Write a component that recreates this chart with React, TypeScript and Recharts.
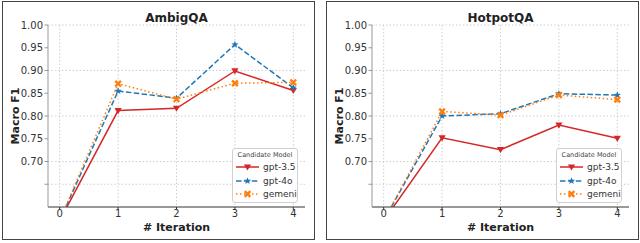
import React from 'react';
import { LineChart, Line, XAxis, YAxis, CartesianGrid, Legend } from 'recharts';

const iterations = [0, 1, 2, 3, 4];
const xTicks = [0, 1, 2, 3, 4];
const yTicks = [0.65, 0.7, 0.75, 0.8, 0.85, 0.9, 0.95, 1.0];

const ambigGpt35 = [0.57, 0.812, 0.817, 0.899, 0.856];
const ambigGpt4o = [0.57, 0.855, 0.839, 0.957, 0.862];
const ambigGemeni = [0.57, 0.871, 0.837, 0.872, 0.874];

const hotpotGpt35 = [0.57, 0.752, 0.726, 0.78, 0.751];
const hotpotGpt4o = [0.57, 0.8, 0.805, 0.849, 0.846];
const hotpotGemeni = [0.57, 0.81, 0.802, 0.846, 0.836];

const FONT = '"DejaVu Sans", sans-serif';

type Shape = 'tri' | 'star' | 'x';

const SERIES: { key: string; name: string; color: string; dash?: string; shape: Shape }[] = [
  { key: 'gpt35', name: 'gpt-3.5', color: '#d62728', shape: 'tri' },
  { key: 'gpt4o', name: 'gpt-4o', color: '#1f77b4', dash: '5.5 2.4', shape: 'star' },
  { key: 'gemeni', name: 'gemeni', color: '#ff7f0e', dash: '1.5 2.5', shape: 'x' },
];

const starPoints = (cx: number, cy: number, ro: number, ri: number) => {
  const pts: string[] = [];
  for (let i = 0; i < 10; i++) {
    const r = i % 2 === 0 ? ro : ri;
    const a = -Math.PI / 2 + (i * Math.PI) / 5;
    pts.push(`${cx + r * Math.cos(a)},${cy + r * Math.sin(a)}`);
  }
  return pts.join(' ');
};

const Marker = ({ cx, cy, shape, color }: { cx: number; cy: number; shape: Shape; color: string }) => {
  if (cx == null || cy == null) return null;
  if (shape === 'tri') {
    return <path d={`M${cx - 3.6},${cy - 2.6} L${cx + 3.6},${cy - 2.6} L${cx},${cy + 3.6} Z`} fill={color} />;
  }
  if (shape === 'star') {
    return <polygon points={starPoints(cx, cy, 3.8, 1.6)} fill={color} />;
  }
  return (
    <g transform={`translate(${cx},${cy}) rotate(45)`} fill={color}>
      <rect x={-4} y={-1.2} width={8} height={2.4} />
      <rect x={-1.2} y={-4} width={2.4} height={8} />
    </g>
  );
};

const LegendBox = () => (
  <div
    style={{
      width: 66,
      height: 55,
      boxSizing: 'border-box',
      border: '1px solid #d0d0d0',
      borderRadius: 3,
      background: 'rgba(255,255,255,0.85)',
      fontFamily: FONT,
      position: 'relative',
    }}
  >
    <div style={{ position: 'absolute', top: 1, left: 0, width: 64, textAlign: 'center', fontSize: 6.5, color: '#444', lineHeight: '10px' }}>
      Candidate Model
    </div>
    {SERIES.map((s, i) => (
      <div key={s.key} style={{ position: 'absolute', left: 2, top: 12 + i * 13.5, height: 12, display: 'flex', alignItems: 'center' }}>
        <svg width={25} height={12}>
          <line x1={1} y1={6} x2={24} y2={6} stroke={s.color} strokeWidth={1.5} strokeDasharray={s.dash} />
          <Marker cx={12.5} cy={6} shape={s.shape} color={s.color} />
        </svg>
        <span style={{ fontSize: 9, color: '#333', marginLeft: 3, lineHeight: '12px' }}>{s.name}</span>
      </div>
    ))}
  </div>
);

const Panel = ({ title, a, b, c, left }: { title: string; a: number[]; b: number[]; c: number[]; left: number }) => {
  const data = iterations.map((it, i) => ({ iter: it, gpt35: a[i], gpt4o: b[i], gemeni: c[i] }));
  return (
    <div
      style={{
        position: 'absolute',
        left,
        top: 1,
        width: 313,
        height: 239,
        boxSizing: 'border-box',
        border: '1px solid #444',
        background: '#fff',
      }}
    >
      <div
        style={{
          position: 'absolute',
          left: 45,
          width: 257,
          top: 8,
          textAlign: 'center',
          fontFamily: FONT,
          fontWeight: 'bold',
          fontSize: 12,
          lineHeight: '16px',
          color: '#222',
        }}
      >
        {title}
      </div>
      <LineChart width={311} height={237} data={data} margin={{ top: 23, right: 9, bottom: 0, left: 0 }}>
        <CartesianGrid stroke="#cfcfcf" strokeDasharray="1.5 2" verticalValues={xTicks} horizontalValues={yTicks} />
        <XAxis
          dataKey="iter"
          type="number"
          domain={[-0.2, 4.2]}
          ticks={xTicks}
          height={32}
          allowDataOverflow
          stroke="#333"
          tickSize={3}
          tickMargin={0}
          tick={{ fill: '#333', fontSize: 10, fontFamily: FONT }}
          label={{
            content: ({ viewBox }: any) => (
              <text
                x={viewBox.x + viewBox.width / 2}
                y={viewBox.y + 24}
                textAnchor="middle"
                fontFamily={FONT}
                fontWeight="bold"
                fontSize={11}
                fill="#222"
              >
                # Iteration
              </text>
            ),
          }}
        />
        <YAxis
          type="number"
          domain={[0.6, 1.0]}
          ticks={yTicks}
          width={45}
          allowDataOverflow
          stroke="#999"
          tickSize={3.5}
          tickMargin={1.5}
          tickFormatter={(v: number) => (v < 0.69 ? '' : v.toFixed(2))}
          tick={{ fill: '#333', fontSize: 10, fontFamily: FONT }}
          label={{
            content: ({ viewBox }: any) => (
              <text
                x={12}
                y={viewBox.y + viewBox.height / 2}
                transform={`rotate(-90, 12, ${viewBox.y + viewBox.height / 2})`}
                textAnchor="middle"
                dominantBaseline="central"
                fontFamily={FONT}
                fontWeight="bold"
                fontSize={11}
                fill="#222"
              >
                Macro F1
              </text>
            ),
          }}
        />
        {SERIES.map((s) => (
          <Line
            key={s.key}
            dataKey={s.key}
            name={s.name}
            stroke={s.color}
            strokeWidth={1.5}
            strokeDasharray={s.dash}
            isAnimationActive={false}
            dot={(p: any) => <Marker key={`${s.key}-${p.index}`} cx={p.cx} cy={p.cy} shape={s.shape} color={s.color} />}
            activeDot={false}
          />
        ))}
        <Legend
          layout="vertical"
          align="center"
          verticalAlign="middle"
          content={() => <LegendBox />}
          wrapperStyle={{ left: 229, top: 146, width: 66, height: 55 }}
        />
      </LineChart>
    </div>
  );
};

export default function App() {
  return (
    <div style={{ position: 'absolute', left: 0, top: 0, width: 640, height: 243, background: '#fff' }}>
      <Panel title="AmbigQA" a={ambigGpt35} b={ambigGpt4o} c={ambigGemeni} left={2} />
      <Panel title="HotpotQA" a={hotpotGpt35} b={hotpotGpt4o} c={hotpotGemeni} left={326} />
    </div>
  );
}
